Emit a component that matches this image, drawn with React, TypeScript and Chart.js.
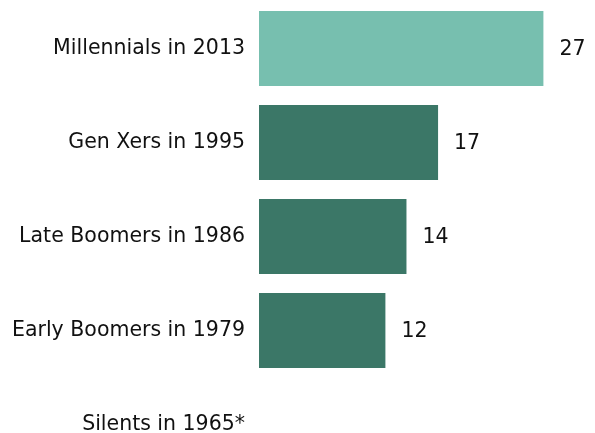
import React, { useEffect, useRef } from "react";
import { Chart, registerables } from "chart.js";

Chart.register(...registerables);

const categories = [
  "Millennials in 2013",
  "Gen Xers in 1995",
  "Late Boomers in 1986",
  "Early Boomers in 1979",
  "Silents in 1965*",
];
const values: (number | null)[] = [27, 17, 14, 12, null];
const barColors = ["#77BFAF", "#3B7767", "#3B7767", "#3B7767", "#3B7767"];

const FONT = "'DejaVu Sans', sans-serif";

const valueLabels = {
  id: "valueLabels",
  afterDatasetsDraw(chart: any) {
    const { ctx } = chart;
    const meta = chart.getDatasetMeta(0);
    ctx.save();
    ctx.font = `20.5px ${FONT}`;
    ctx.fillStyle = "#111";
    ctx.textAlign = "left";
    ctx.textBaseline = "middle";
    meta.data.forEach((el: any, i: number) => {
      const v = values[i];
      if (v == null) return;
      ctx.fillText(String(v), el.x + 16, el.y + 1);
    });
    ctx.restore();
  },
};

export default function App() {
  const ref = useRef<HTMLCanvasElement>(null);
  useEffect(() => {
    const chart = new Chart(ref.current!, {
      type: "bar",
      data: {
        labels: categories,
        datasets: [
          {
            data: values,
            backgroundColor: barColors,
            categoryPercentage: 1,
            barPercentage: 0.8,
          },
        ],
      },
      options: {
        indexAxis: "y",
        animation: false,
        responsive: true,
        maintainAspectRatio: false,
        layout: { padding: { top: 1.5, right: 20, bottom: 0.5, left: 0 } },
        plugins: { legend: { display: false }, tooltip: { enabled: false } },
        scales: {
          x: { display: false, min: 0, max: 30 },
          y: {
            grid: { display: false, drawTicks: false },
            border: { display: false },
            afterFit: (scale: any) => {
              scale.paddingTop = 0;
              scale.paddingBottom = 0;
              scale.width = 259;
            },
            ticks: {
              padding: 14,
              color: "#111",
              font: { family: FONT, size: 20.5 },
            },
          },
        },
      },
      plugins: [valueLabels],
    });
    return () => chart.destroy();
  }, []);
  return (
    <div style={{ position: "fixed", left: 0, top: 0, width: 595, height: 433, overflow: "hidden", background: "#fff" }}>
      <div style={{ position: "relative", width: 595, height: 472 }}>
        <canvas ref={ref} />
      </div>
    </div>
  );
}
